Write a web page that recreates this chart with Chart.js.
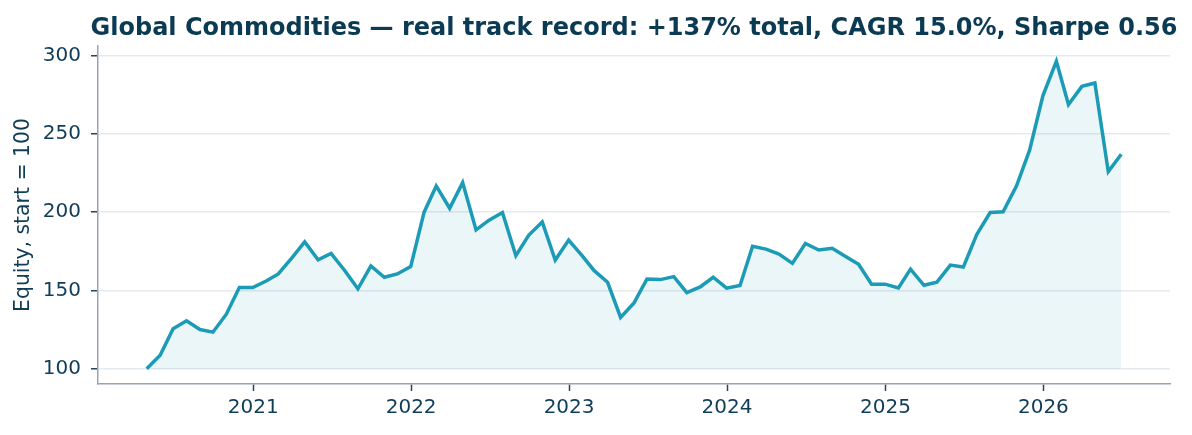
<!DOCTYPE html>
<html>
<head>
<meta charset="utf-8">
<script src="https://cdn.jsdelivr.net/npm/chart.js@4.4.1/dist/chart.umd.min.js"></script>
<style>
  html, body { margin: 0; padding: 0; background: #ffffff; }
  #wrap { width: 1192px; height: 435px; position: relative; }
</style>
</head>
<body>
<div id="wrap"><canvas id="c" width="1192" height="435"></canvas></div>
<script>
// ---- data (month-end observations) ----
const months = [
  "2020-04","2020-05","2020-06","2020-07","2020-08","2020-09","2020-10","2020-11","2020-12",
  "2021-01","2021-02","2021-03","2021-04","2021-05","2021-06","2021-07","2021-08","2021-09","2021-10","2021-11","2021-12",
  "2022-01","2022-02","2022-03","2022-04","2022-05","2022-06","2022-07","2022-08","2022-09","2022-10","2022-11","2022-12",
  "2023-01","2023-02","2023-03","2023-04","2023-05","2023-06","2023-07","2023-08","2023-09","2023-10","2023-11","2023-12",
  "2024-01","2024-02","2024-03","2024-04","2024-05","2024-06","2024-07","2024-08","2024-09","2024-10","2024-11","2024-12",
  "2025-01","2025-02","2025-03","2025-04","2025-05","2025-06","2025-07","2025-08","2025-09","2025-10","2025-11","2025-12",
  "2026-01","2026-02","2026-03","2026-04","2026-05","2026-06"
];
const equity = [
  100.0,108.5,125.5,130.6,125.0,123.3,134.8,151.8,151.8,
  156.0,160.5,170.7,181.0,169.6,173.7,162.9,151.0,165.6,158.4,160.5,165.2,
  200.0,216.8,202.5,218.9,188.7,194.9,199.8,172.2,185.4,193.8,169.4,182.2,
  172.2,162.6,155.2,132.7,142.0,157.3,156.9,158.8,148.6,152.2,158.4,151.4,
  153.1,178.2,176.4,173.2,167.3,180.0,175.8,176.9,171.8,166.7,154.0,154.0,
  151.6,163.6,153.3,155.3,166.2,164.9,185.7,199.8,200.2,216.8,239.5,274.5,
  296.4,268.8,280.4,282.6,225.9,237.0
];
const yearTicks = [2021, 2022, 2023, 2024, 2025, 2026];
const yTicks = [100, 150, 200, 250, 300];
const titleText = "Global Commodities \u2014 real track record: +137% total, CAGR 15.0%, Sharpe 0.56";
const yTitle = "Equity, start = 100";

// ---- build ----
function monthEnd(s) {
  const [y, m] = s.split("-").map(Number);
  return Date.UTC(y, m, 0);
}
const pts = months.map((m, i) => ({ x: monthEnd(m), y: equity[i] }));
const xs = pts.map(p => p.x), ysv = equity;
const xMin0 = Math.min(...xs), xMax0 = Math.max(...xs);
const xPad = (xMax0 - xMin0) * 0.05;
const yMin0 = Math.min(...ysv), yMax0 = Math.max(...ysv);
const yPad = (yMax0 - yMin0) * 0.05;

const navy = "#0f3d57";
const fontFamily = "'DejaVu Sans', sans-serif";

// let the title overflow the plot width slightly (keeps it centred on the plot)
const widenTitle = {
  id: "widenTitle",
  afterLayout(chart) {
    const t = chart.titleBlock;
    if (t) { t.left -= 40; t.right += 40; t.width = t.right - t.left; }
  }
};

new Chart(document.getElementById("c"), {
  type: "line",
  data: {
    datasets: [{
      data: pts,
      borderColor: "#1b9bb6",
      borderWidth: 3.5,
      pointRadius: 0,
      tension: 0,
      fill: { value: 100 },
      backgroundColor: "rgba(27,155,182,0.09)"
    }]
  },
  plugins: [widenTitle],
  options: {
    responsive: false,
    animation: false,
    devicePixelRatio: 1,
    layout: { padding: { left: 0, right: 22, top: 0, bottom: 0 } },
    plugins: {
      legend: { display: false },
      tooltip: { enabled: false },
      title: {
        display: true,
        text: titleText,
        fullSize: false,
        color: "#0b3a53",
        font: { family: fontFamily, size: 24, weight: "bold", lineHeight: 1.2 },
        padding: { top: 14, bottom: 3.2 }
      }
    },
    scales: {
      x: {
        type: "linear",
        min: xMin0 - xPad,
        max: xMax0 + xPad,
        afterBuildTicks: s => { s.ticks = yearTicks.map(y => ({ value: Date.UTC(y, 0, 1) })); },
        afterFit: s => { s.height = 51; },
        grid: { drawOnChartArea: false, drawTicks: true, tickLength: 7, tickColor: "#24475e", tickWidth: 1.5 },
        border: { display: true, color: "#98a4af", width: 1.5 },
        ticks: {
          color: navy,
          padding: 5,
          maxRotation: 0,
          font: { family: fontFamily, size: 20 },
          callback: v => String(new Date(v).getUTCFullYear())
        }
      },
      y: {
        type: "linear",
        min: yMin0 - yPad,
        max: yMax0 + yPad,
        afterBuildTicks: s => { s.ticks = yTicks.map(v => ({ value: v })); },
        afterFit: s => { s.width = 98; },
        grid: { color: "#e5eaee", lineWidth: 1.5, drawTicks: true, tickLength: 7, tickColor: "#24475e", tickWidth: 1.5 },
        border: { display: true, color: "#98a4af", width: 1.5 },
        title: {
          display: true,
          text: yTitle,
          color: navy,
          font: { family: fontFamily, size: 20.4 },
          padding: { top: 11, bottom: 0 }
        },
        ticks: {
          color: navy,
          padding: 10,
          font: { family: fontFamily, size: 20 },
          callback: v => String(v)
        }
      }
    }
  }
});
</script>
</body>
</html>
